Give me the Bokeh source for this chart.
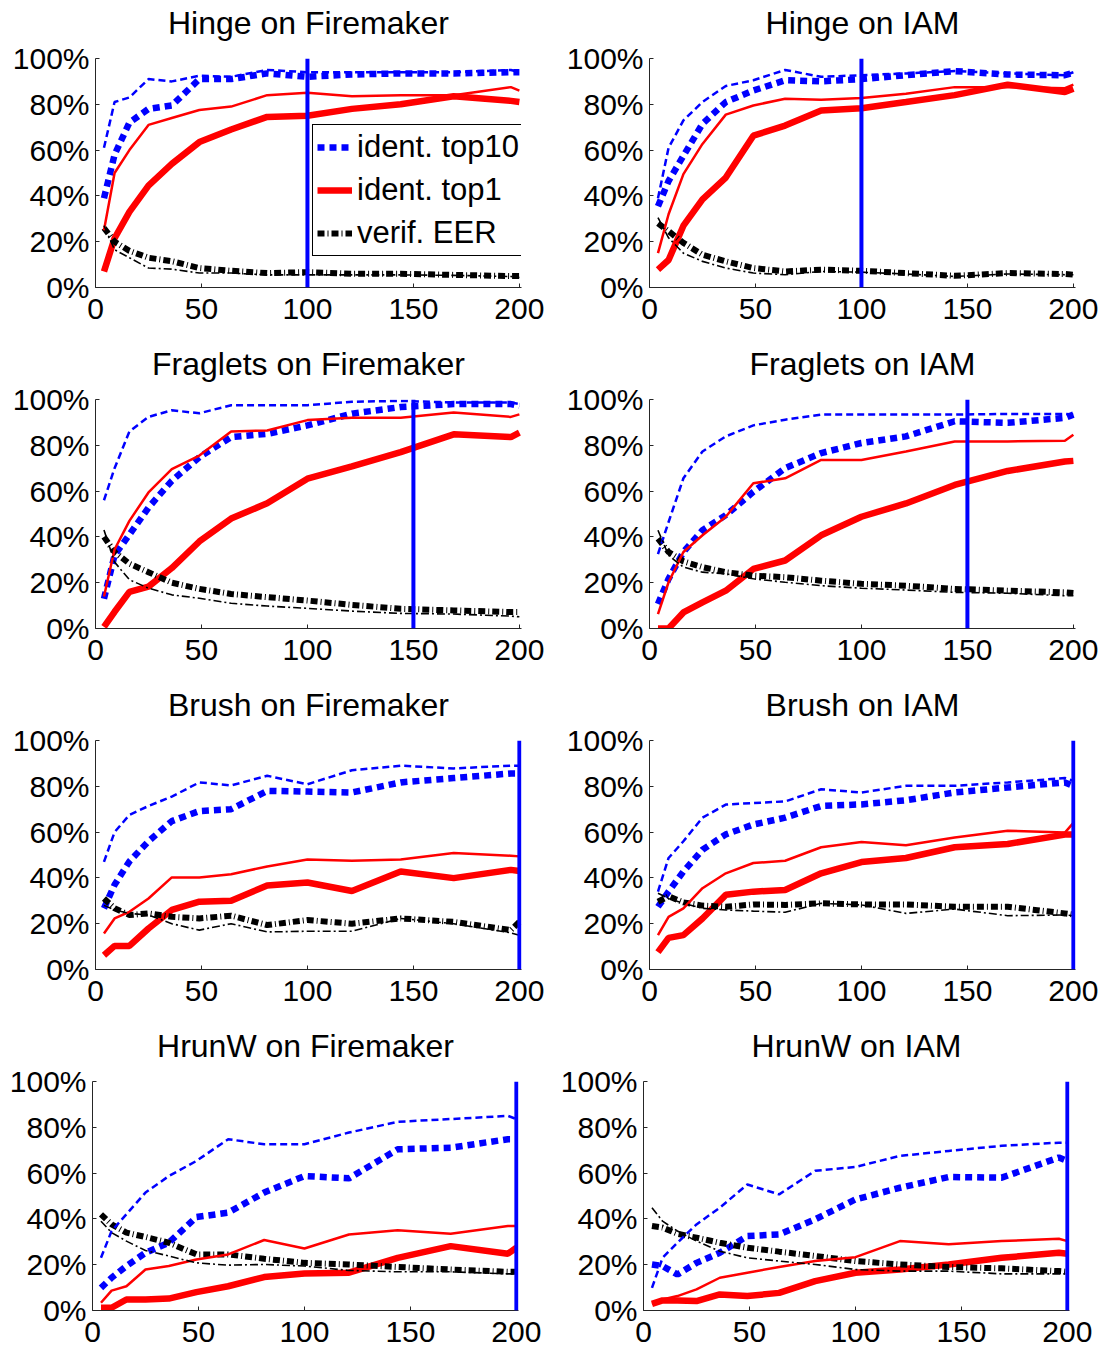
from bokeh.plotting import figure
from bokeh.layouts import column, row
from bokeh.models import Span, Legend, LegendItem, FixedTicker, Range1d, Title
from bokeh.embed import file_html
from bokeh.resources import INLINE

# ---------------- data ----------------
N_WRITERS = [4, 9, 16, 25, 36, 49, 64, 81, 100, 121, 144, 169, 196, 200]
X_TICKS = [0, 50, 100, 150, 200]
X_TICK_LABELS = ["0", "50", "100", "150", "200"]
Y_TICKS = [0, 20, 40, 60, 80, 100]
Y_TICK_LABELS = ["0%", "20%", "40%", "60%", "80%", "100%"]
LEGEND_LABELS = ["ident. top10", "ident. top1", "verif. EER"]
TITLES = ["Hinge on Firemaker", "Hinge on IAM",
          "Fraglets on Firemaker", "Fraglets on IAM",
          "Brush on Firemaker", "Brush on IAM",
          "HrunW on Firemaker", "HrunW on IAM"]
THRESHOLDS = [100, 100, 150, 150, 200, 200, 200, 200]

# Hinge on Firemaker
hinge_fm_top10_thin = [61, 81, 83, 91, 90, 92.5, 92, 95, 94, 94, 94, 94, 95, 94]
hinge_fm_top10_thick = [39, 58, 72, 78, 79.5, 91, 91, 93.5, 92, 93, 93.5, 93.5, 94, 94]
hinge_fm_top1_thin = [25, 50, 60, 71, 74, 77.5, 79, 84, 85, 83.5, 84, 84, 87.5, 86]
hinge_fm_top1_thick = [7, 21.5, 33, 44.5, 54, 63.5, 69, 74.5, 75, 78, 80, 83.5, 81.5, 81]
hinge_fm_eer_thin = [27, 16.5, 13, 8.5, 8, 6.3, 6.3, 5.5, 5.5, 5.5, 5.5, 5.3, 4.8, 4.4]
hinge_fm_eer_thick = [26, 20, 16, 13, 11.5, 8.5, 7.3, 6.3, 6.7, 6, 6, 5.5, 5, 5]

# Hinge on IAM
hinge_iam_top10_thin = [39, 61, 73, 81, 88, 90.5, 95, 92, 92.7, 93.5, 94.5, 93.5, 92.7, 94]
hinge_iam_top10_thick = [35.5, 46.5, 57.5, 71.5, 81, 86, 90.5, 90, 91, 92.7, 94.5, 93, 92.7, 93.7]
hinge_iam_top1_thin = [15, 32, 49.5, 62.7, 75.5, 79.5, 82.4, 82, 82.7, 84.6, 87.5, 87.5, 87, 88.6]
hinge_iam_top1_thick = [7.8, 12, 27, 38.5, 48, 66.3, 70.7, 77.3, 78.3, 81, 84, 88.6, 85.4, 86.8]
hinge_iam_eer_thin = [30.5, 21.7, 15, 11.4, 8.5, 6.3, 5.6, 7, 6.7, 5.9, 4.8, 5.9, 5.6, 5.6]
hinge_iam_eer_thick = [28, 24.6, 19.5, 14.3, 11.4, 8.5, 7, 7.8, 7.3, 6.3, 5.1, 6.3, 5.9, 5.6]

# Fraglets on Firemaker
fraglets_fm_top10_thin = [56, 70, 86, 92.4, 95.3, 94, 97.5, 97.5, 97.5, 99, 99.4, 98.7, 98.7, 98]
fraglets_fm_top10_thick = [13, 32, 41, 52.8, 64.5, 74.8, 83.6, 85, 88.7, 93.8, 96.7, 98, 98, 97.2]
fraglets_fm_top1_thin = [14, 34.5, 47, 59.4, 69.6, 75.5, 86, 86.5, 91, 92, 92, 94.3, 92.4, 93.5]
fraglets_fm_top1_thick = [0.7, 7.3, 16, 18.3, 26.4, 38, 48, 54.7, 65.4, 70.8, 77, 84.8, 83.6, 85.5]
fraglets_fm_eer_thin = [43, 29, 21.3, 17.6, 14.7, 13.2, 11, 9.8, 8.8, 7.6, 6.6, 6.3, 5.4, 5.1]
fraglets_fm_eer_thick = [40, 33.4, 28.3, 24.6, 20, 17.3, 15.1, 13.7, 12.2, 10.3, 8.6, 7.9, 7.2, 7.2]

# Fraglets on IAM
fraglets_iam_top10_thin = [32.5, 46.5, 65.6, 77.3, 83.9, 88.7, 91.2, 93.4, 93.4, 93.4, 93.4, 93.7, 93.7, 93.4]
fraglets_iam_top10_thick = [10.7, 21.7, 33.4, 42.9, 49.5, 59.7, 70, 76.6, 81, 83.9, 90.5, 89.8, 92, 93.4]
fraglets_iam_top1_thin = [6.3, 20.2, 33.4, 40.7, 48.8, 63.4, 65.6, 73.6, 73.6, 77.3, 81.7, 81.7, 82, 84.6]
fraglets_iam_top1_thick = [0, 0, 7, 11.4, 16.5, 26, 29.7, 40.7, 48.8, 54.6, 62.7, 68.8, 72.9, 73.2]
fraglets_iam_eer_thin = [42.9, 31.9, 26.8, 24.6, 23.9, 21.7, 20.2, 18.7, 17.6, 16.8, 15.8, 15.4, 14.3, 14.3]
fraglets_iam_eer_thick = [39.2, 33.4, 29.3, 26.8, 24.6, 23.1, 22.4, 20.9, 19.5, 18.7, 17.3, 16.5, 15.8, 15.5]

# Brush on Firemaker
brush_fm_top10_thin = [47, 60, 67.5, 71.4, 75.5, 81.7, 80.4, 84.6, 80.9, 87, 89, 87.8, 89, 89]
brush_fm_top10_thick = [26.7, 37, 47.2, 56, 64.8, 69.2, 70, 78, 77.7, 77.3, 81.7, 83.6, 85.6, 85.6]
brush_fm_top1_thin = [15.7, 22.3, 25.2, 31, 40.2, 40.2, 41.6, 45, 48, 47.5, 48, 50.9, 49.7, 49.4]
brush_fm_top1_thick = [6.2, 10.3, 10.3, 17.9, 26, 29.6, 30, 36.7, 38, 34.3, 42.8, 39.9, 43.5, 43]
brush_fm_eer_thin = [28, 26, 24.5, 23.8, 20, 17.2, 20, 16.4, 16.7, 16.7, 22.3, 20, 16, 15]
brush_fm_eer_thick = [31, 26.7, 23.8, 24.5, 23, 22.3, 23.5, 19.4, 21.6, 20, 22.3, 20.8, 17.2, 20.8]

# Brush on IAM
brush_iam_top10_thin = [34, 48.7, 56, 66.3, 72, 72.7, 73.4, 78.7, 77.3, 80.2, 80.2, 81.7, 83.6, 82.4]
brush_iam_top10_thick = [27.4, 34, 42.8, 52.3, 59, 63.3, 66.3, 71.4, 72.1, 73.9, 77.3, 79.5, 81.7, 80.2]
brush_iam_top1_thin = [15, 23, 26.7, 35.5, 42, 46.5, 47.5, 53.4, 55.7, 54.3, 57.6, 60.6, 59.8, 64]
brush_iam_top1_thick = [7.6, 13.8, 15, 22.3, 32.6, 34, 34.7, 42, 46.9, 48.7, 53.4, 54.8, 58.9, 58.9]
brush_iam_eer_thin = [33.3, 31, 28.9, 26.7, 26, 25.5, 25, 28.9, 28.2, 24.5, 26.4, 23.5, 23.8, 23.5]
brush_iam_eer_thick = [29.6, 32, 29.3, 27.9, 27.4, 28.4, 28.2, 28.9, 28.4, 28.4, 27.4, 27.4, 24.5, 24]

# HrunW on Firemaker
hrunw_fm_top10_thin = [23, 34.7, 42, 51.5, 58.7, 65.3, 74.8, 72.6, 72.6, 77.7, 82.4, 83.6, 85, 83.6]
hrunw_fm_top10_thick = [9.9, 14.3, 19.4, 25.2, 29.6, 40.8, 42.7, 51.5, 58.7, 57.7, 70.4, 71.1, 74.8, 74.8]
hrunw_fm_top1_thin = [3.4, 8.7, 10.6, 17.9, 19.4, 22.3, 24.5, 30.8, 27.1, 33.2, 35, 33.5, 36.9, 36.9]
hrunw_fm_top1_thick = [1.2, 1.2, 4.8, 4.8, 5.2, 8, 10.6, 14.6, 16.2, 16.5, 23, 28.1, 24.8, 27.4]
hrunw_fm_eer_thin = [39, 34, 30.3, 26.2, 23.8, 20.8, 19.8, 20.1, 19.4, 17.5, 16.9, 16.9, 16, 16]
hrunw_fm_eer_thick = [42, 37.6, 34, 32.1, 29.6, 24.5, 24.5, 22.6, 20.8, 20.1, 19, 17.9, 16.9, 16.9]

# HrunW on IAM
hrunw_iam_top10_thin = [9.9, 23, 29.6, 37.6, 44.9, 55, 50.7, 61, 62.7, 67.5, 69.7, 71.9, 73.3, 73.3]
hrunw_iam_top10_thick = [20.1, 19.4, 15.7, 20.8, 25.2, 32.5, 33.2, 39.8, 48.5, 53.6, 58.3, 58, 66.8, 65.3]
hrunw_iam_top1_thin = [2.9, 4.8, 6.3, 9.2, 14.3, 16.5, 19, 21.6, 23.3, 30.3, 28.9, 30.3, 31.3, 30.3]
hrunw_iam_top1_thick = [2.9, 4.4, 4.4, 4.1, 7, 6.3, 7.7, 12.8, 16.5, 17.9, 20.1, 23, 25.2, 24.8]
hrunw_iam_eer_thin = [44.9, 39, 34.7, 30.3, 25.9, 23, 21.6, 20.1, 17.9, 17.2, 17.2, 16, 16, 16]
hrunw_iam_eer_thick = [36.9, 36.2, 33.5, 31.8, 29.6, 27.4, 25.7, 23.8, 21.6, 20.1, 19, 18.4, 17.2, 16.9]

PANEL_SERIES = [
    (hinge_fm_top10_thick, hinge_fm_top1_thick, hinge_fm_eer_thick,
     hinge_fm_top10_thin, hinge_fm_top1_thin, hinge_fm_eer_thin),
    (hinge_iam_top10_thick, hinge_iam_top1_thick, hinge_iam_eer_thick,
     hinge_iam_top10_thin, hinge_iam_top1_thin, hinge_iam_eer_thin),
    (fraglets_fm_top10_thick, fraglets_fm_top1_thick, fraglets_fm_eer_thick,
     fraglets_fm_top10_thin, fraglets_fm_top1_thin, fraglets_fm_eer_thin),
    (fraglets_iam_top10_thick, fraglets_iam_top1_thick, fraglets_iam_eer_thick,
     fraglets_iam_top10_thin, fraglets_iam_top1_thin, fraglets_iam_eer_thin),
    (brush_fm_top10_thick, brush_fm_top1_thick, brush_fm_eer_thick,
     brush_fm_top10_thin, brush_fm_top1_thin, brush_fm_eer_thin),
    (brush_iam_top10_thick, brush_iam_top1_thick, brush_iam_eer_thick,
     brush_iam_top10_thin, brush_iam_top1_thin, brush_iam_eer_thin),
    (hrunw_fm_top10_thick, hrunw_fm_top1_thick, hrunw_fm_eer_thick,
     hrunw_fm_top10_thin, hrunw_fm_top1_thin, hrunw_fm_eer_thin),
    (hrunw_iam_top10_thick, hrunw_iam_top1_thick, hrunw_iam_eer_thick,
     hrunw_iam_top10_thin, hrunw_iam_top1_thin, hrunw_iam_eer_thin),
]

# ---------------- styles ----------------
FONT = "Liberation Sans"
STYLES = [
    dict(line_color="#0000ff", line_width=6.5, line_dash="7 5"),        # top10 thick
    dict(line_color="#ff0000", line_width=6.5),                         # top1 thick
    dict(line_color="#000000", line_width=6, line_dash="7 3 1 3"),      # EER thick
    dict(line_color="#0000ff", line_width=2.5, line_dash="7 4"),        # top10 thin
    dict(line_color="#ff0000", line_width=2.5),                         # top1 thin
    dict(line_color="#000000", line_width=1.6, line_dash="8 3 2 3"),    # EER thin
]

ROW_HEIGHTS = [341, 341, 341, 324]
COL_WIDTHS = [556, 554]
X_MAX = 201          # a little room so the threshold line at 200 is not clipped
FRAME_W = 426        # 424 px for 0..200
FRAME_H = 229
BORDER_TOP = 58
BORDER_LEFT = [[95, 93], [95, 93], [95, 93], [92, 87]]


def make_panel(idx):
    r, c = divmod(idx, 2)
    w, h = COL_WIDTHS[c], ROW_HEIGHTS[r]
    bl = BORDER_LEFT[r][c]
    p = figure(width=w, height=h, output_backend="svg", toolbar_location=None,
               x_range=Range1d(0, X_MAX), y_range=Range1d(0, 100),
               min_border_left=bl, min_border_right=w - bl - FRAME_W,
               min_border_top=BORDER_TOP, min_border_bottom=h - BORDER_TOP - FRAME_H)
    p.outline_line_color = None
    p.xgrid.visible = False
    p.ygrid.visible = False
    p.background_fill_color = "white"
    p.border_fill_color = "white"

    # blank spacer next to the frame, then the real title above it
    p.add_layout(Title(text=" ", text_font_size="1px", standoff=15), "above")
    p.add_layout(Title(text=TITLES[idx], align="center", vertical_align="bottom",
                       text_font=FONT, text_font_size="32px",
                       text_font_style="normal", text_color="black",
                       standoff=0), "above")

    for ax in (p.xaxis[0], p.yaxis[0]):
        ax.axis_line_color = "#262626"
        ax.axis_line_width = 1
        ax.major_tick_line_color = "#262626"
        ax.major_tick_in = 4
        ax.major_tick_out = 0
        ax.minor_tick_line_color = None
        ax.major_label_text_font = FONT
        ax.major_label_text_font_size = "30px"
        ax.major_label_text_color = "black"
    p.xaxis.ticker = FixedTicker(ticks=X_TICKS)
    p.xaxis.major_label_overrides = dict(zip(X_TICKS, X_TICK_LABELS))
    p.xaxis.major_label_standoff = 11
    p.yaxis.ticker = FixedTicker(ticks=Y_TICKS)
    p.yaxis.major_label_overrides = dict(zip(Y_TICKS, Y_TICK_LABELS))
    p.yaxis.major_label_standoff = 6

    renderers = []
    for ys, st in zip(PANEL_SERIES[idx], STYLES):
        renderers.append(p.line(N_WRITERS, ys, **st))

    p.add_layout(Span(location=THRESHOLDS[idx], dimension="height",
                      line_color="#0000ff", line_width=4))

    if idx == 0:
        items = [LegendItem(label=lab, renderers=[rr])
                 for lab, rr in zip(LEGEND_LABELS, renderers[:3])]
        leg = Legend(items=items, location=(217, 31),
                     glyph_width=35, glyph_height=20,
                     label_text_font=FONT, label_text_font_size="31px",
                     label_text_color="black",
                     label_standoff=5, padding=4, spacing=7, margin=0,
                     border_line_color="black", border_line_width=1,
                     border_line_alpha=1.0,
                     background_fill_color="white", background_fill_alpha=1.0)
        p.add_layout(leg)
    return p


panels = [make_panel(i) for i in range(8)]
layout = column(*[row(panels[2 * k], panels[2 * k + 1]) for k in range(4)])

open("out.html", "w").write(file_html(layout, INLINE))
